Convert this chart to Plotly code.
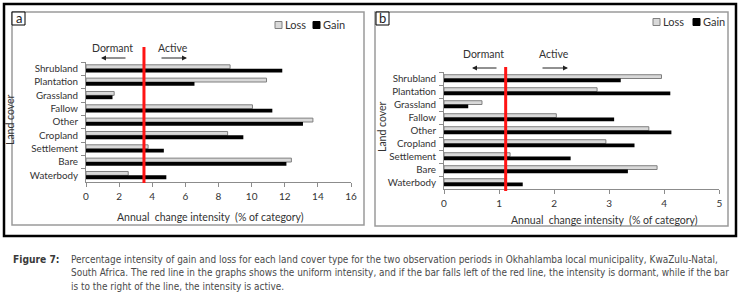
import plotly.graph_objects as go

# ---------------- data ----------------
categories = ["Shrubland", "Plantation", "Grassland", "Fallow", "Other",
              "Cropland", "Settlement", "Bare", "Waterbody"]
loss_a = [8.7, 10.9, 1.7, 10.05, 13.7, 8.55, 3.75, 12.4, 2.55]
gain_a = [11.85, 6.55, 1.6, 11.25, 13.1, 9.5, 4.7, 12.1, 4.85]
loss_b = [3.95, 2.78, 0.69, 2.04, 3.72, 2.94, 1.2, 3.87, 1.1]
gain_b = [3.21, 4.11, 0.44, 3.09, 4.13, 3.46, 2.3, 3.34, 1.43]
uniform_a = 3.5
uniform_b = 1.12
ticks_a = [0, 2, 4, 6, 8, 10, 12, 14, 16]
ticks_b = [0, 1, 2, 3, 4, 5]
x_title = "Annual  change intensity  (% of category)"
y_title = "Land cover"
caption_label = "Figure 7:"
caption_lines = [
    "Percentage intensity of gain and loss for each land cover type for the two observation periods in Okhahlamba local municipality, KwaZulu-Natal,",
    "South Africa. The red line in the graphs shows the uniform intensity, and if the bar falls left of the red line, the intensity is dormant, while if the bar",
    "is to the right of the line, the intensity is active.",
]

W, H = 747, 299
def px(x):
    return x / W
def py(y):
    return 1 - y / H

FONT = "Lato, Carlito, Calibri, sans-serif"
CAP_FONT = "DejaVu Sans Condensed, Liberation Sans Narrow, Arial Narrow, sans-serif"
TXT = "#333333"
LOSS_FILL = "#d9d9d9"
LOSS_LINE = "#7f7f7f"
GAIN_FILL = "#000000"

fig = go.Figure()
for xa, ya, loss, gain in (("x", "y", loss_a, gain_a), ("x2", "y2", loss_b, gain_b)):
    fig.add_trace(go.Bar(y=categories, x=loss, orientation="h", name="Loss",
                         marker=dict(color=LOSS_FILL, line=dict(color=LOSS_LINE, width=1)),
                         xaxis=xa, yaxis=ya, showlegend=False))
    fig.add_trace(go.Bar(y=categories, x=gain, orientation="h", name="Gain",
                         marker=dict(color=GAIN_FILL, line=dict(color=GAIN_FILL, width=0)),
                         xaxis=xa, yaxis=ya, showlegend=False))

axis_common = dict(showline=True, linecolor="#8c8c8c", linewidth=1, ticks="outside",
                   ticklen=4, tickcolor="#8c8c8c", showgrid=False, zeroline=False,
                   automargin=False)
xtick_font = dict(family=FONT, size=10, color=TXT)
ytick_font = dict(family=FONT, size=9.8, color=TXT)

fig.update_layout(
    template="none",
    width=W, height=H, margin=dict(l=0, r=0, t=0, b=0, pad=0),
    paper_bgcolor="white", plot_bgcolor="white",
    barmode="group", bargap=0.42, bargroupgap=0,
    font=dict(family=FONT, color=TXT),
    xaxis=dict(domain=[px(86), px(351)], range=[0, 16], tickmode="array", tickvals=ticks_a,
               anchor="y", ticklabelstandoff=1, tickfont=xtick_font, **axis_common),
    yaxis=dict(domain=[py(182), py(62)], type="category", categoryorder="array",
               categoryarray=categories, range=[8.5, -0.5], anchor="x",
               tickmode="linear", tick0=0, dtick=1, tickfont=ytick_font,
               tickson="boundaries", ticklabelstandoff=5, **axis_common),
    xaxis2=dict(domain=[px(444), px(719.3)], range=[0, 5], tickmode="array", tickvals=ticks_b,
                anchor="y2", ticklabelstandoff=1, tickfont=xtick_font, **axis_common),
    yaxis2=dict(domain=[py(189), py(72)], type="category", categoryorder="array",
                categoryarray=categories, range=[8.5, -0.5], anchor="x2",
                tickmode="linear", tick0=0, dtick=1, tickfont=ytick_font,
                tickson="boundaries", ticklabelstandoff=5, **axis_common),
)

shapes = []
ann = []
# outer frame and panel boxes
shapes.append(dict(type="rect", xref="paper", yref="paper", x0=px(4), x1=px(736),
                   y0=py(236), y1=py(4), line=dict(color="black", width=2.5)))
for x0, x1, y1 in ((12, 364, 225), (375, 728, 226)):
    shapes.append(dict(type="rect", xref="paper", yref="paper", x0=px(x0), x1=px(x1),
                       y0=py(y1), y1=py(12), line=dict(color="#9a9a9a", width=1.5)))

# panel labels
for x0, lab in ((12, "a"), (376, "b")):
    shapes.append(dict(type="rect", xref="paper", yref="paper", x0=px(x0), x1=px(x0 + 13),
                       y0=py(25), y1=py(12), line=dict(color="black", width=1),
                       fillcolor="white"))
    ann.append(dict(xref="paper", yref="paper", x=px(x0 + 6.5), y=py(18), text=lab,
                    showarrow=False, xanchor="center", yanchor="middle",
                    font=dict(family=FONT, size=13, color="#222")))

# uniform intensity lines
shapes.append(dict(type="line", xref="x", yref="paper", x0=uniform_a, x1=uniform_a,
                   y0=py(183), y1=py(47), line=dict(color="#ff1414", width=3)))
shapes.append(dict(type="line", xref="x2", yref="paper", x0=uniform_b, x1=uniform_b,
                   y0=py(191), y1=py(67), line=dict(color="#ff1414", width=3)))

# legends
for lx, gx, ly in ((275, 313, 25), (653, 693, 22)):
    shapes.append(dict(type="rect", xref="paper", yref="paper", x0=px(lx), x1=px(lx + 7),
                       y0=py(ly + 3.5), y1=py(ly - 3.5), line=dict(color=LOSS_LINE, width=1),
                       fillcolor=LOSS_FILL))
    shapes.append(dict(type="rect", xref="paper", yref="paper", x0=px(gx), x1=px(gx + 7),
                       y0=py(ly + 3.5), y1=py(ly - 3.5), line=dict(color="black", width=1),
                       fillcolor="black"))
    ann.append(dict(xref="paper", yref="paper", x=px(lx + 8), y=py(ly), text="Loss",
                    showarrow=False, xanchor="left", yanchor="middle",
                    font=dict(family=FONT, size=11, color=TXT)))
    ann.append(dict(xref="paper", yref="paper", x=px(gx + 8), y=py(ly), text="Gain",
                    showarrow=False, xanchor="left", yanchor="middle",
                    font=dict(family=FONT, size=11, color=TXT)))

# dormant / active
for dx, axx, ty, ay_ in ((112, 173, 48, 58), (483, 554, 54, 68)):
    ann.append(dict(xref="paper", yref="paper", x=px(dx), y=py(ty), text="Dormant",
                    showarrow=False, xanchor="center", yanchor="middle",
                    font=dict(family=FONT, size=10.5, color=TXT)))
    ann.append(dict(xref="paper", yref="paper", x=px(axx), y=py(ty), text="Active",
                    showarrow=False, xanchor="center", yanchor="middle",
                    font=dict(family=FONT, size=10.5, color=TXT)))
    ann.append(dict(xref="paper", yref="paper", x=px(dx - 11), y=py(ay_), ax=26, ay=0,
                    text="", showarrow=True, arrowhead=2, arrowsize=1, arrowwidth=1,
                    arrowcolor="#222"))
    ann.append(dict(xref="paper", yref="paper", x=px(axx + 14), y=py(ay_), ax=-27, ay=0,
                    text="", showarrow=True, arrowhead=2, arrowsize=1, arrowwidth=1,
                    arrowcolor="#222"))

# axis titles
ann.append(dict(xref="paper", yref="paper", x=px(210), y=py(217), text=x_title,
                showarrow=False, xanchor="center", yanchor="middle",
                font=dict(family=FONT, size=10.5, color=TXT)))
ann.append(dict(xref="paper", yref="paper", x=px(604), y=py(220), text=x_title,
                showarrow=False, xanchor="center", yanchor="middle",
                font=dict(family=FONT, size=10.5, color=TXT)))
ann.append(dict(xref="paper", yref="paper", x=px(10), y=py(120), text=y_title,
                showarrow=False, xanchor="center", yanchor="middle", textangle=-90,
                font=dict(family=FONT, size=10.5, color=TXT)))
ann.append(dict(xref="paper", yref="paper", x=px(382), y=py(127), text=y_title,
                showarrow=False, xanchor="center", yanchor="middle", textangle=-90,
                font=dict(family=FONT, size=10.5, color=TXT)))

# caption
ann.append(dict(xref="paper", yref="paper", x=px(11), y=py(259), text="<b>" + caption_label + "</b>",
                showarrow=False, xanchor="left", yanchor="middle",
                font=dict(family=CAP_FONT, size=10.2, color="#3a3a3a")))
for i, line in enumerate(caption_lines):
    ann.append(dict(xref="paper", yref="paper", x=px(69), y=py(259 + 13.5 * i), text=line,
                    showarrow=False, xanchor="left", yanchor="middle",
                    font=dict(family=CAP_FONT, size=9.95, color="#4a4a4a")))

fig.update_layout(shapes=shapes, annotations=ann)
fig.write_html("out.html", config={"displayModeBar": False},
               post_script="document.body.style.margin='0';")
